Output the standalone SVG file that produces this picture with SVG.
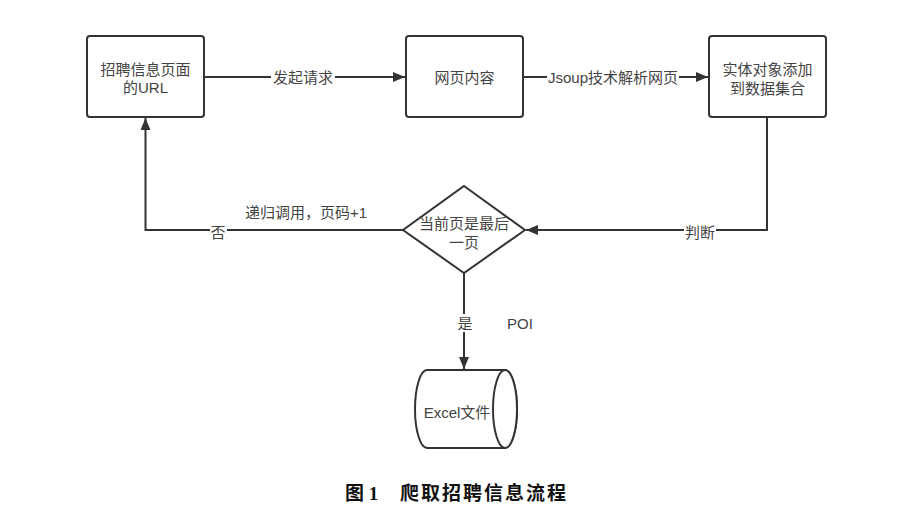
<svg xmlns="http://www.w3.org/2000/svg" width="900" height="516" viewBox="0 0 900 516">
<style>
.node{fill:#fff;stroke:#333;stroke-width:2}
.t{font-family:"Liberation Sans","Noto Sans CJK SC",sans-serif;font-size:15px;fill:#444;text-anchor:middle;dominant-baseline:central}
.edge{fill:none;stroke:#333;stroke-width:2}
.lbg{fill:#fff}
.cap{font-family:"Liberation Serif","Noto Sans CJK SC",serif;font-size:19px;font-weight:bold;fill:#111;dominant-baseline:central}
</style>
<defs>
<marker id="arr" viewBox="0 0 12 10" refX="12" refY="5" markerWidth="12" markerHeight="10" markerUnits="userSpaceOnUse" orient="auto">
<path d="M0,0 L12,5 L0,10 z" fill="#333"/>
</marker>
</defs>
<rect width="900" height="516" fill="#fff"/>
<g id="connectors">
<path class="edge" d="M204,77 H405" marker-end="url(#arr)"/>
<path class="edge" d="M523,77 H708" marker-end="url(#arr)"/>
<path class="edge" d="M767,117 V230 H526" marker-end="url(#arr)"/>
<path class="edge" d="M403,230 H145.5 V118" marker-end="url(#arr)"/>
<path class="edge" d="M464,273 V369" marker-end="url(#arr)"/>
<rect class="lbg" x="271" y="68" width="64" height="18"/>
<text class="t" x="303" y="77">发起请求</text>
<rect class="lbg" x="547" y="68" width="132" height="18"/>
<text class="t" x="613" y="77">Jsoup技术解析网页</text>
<rect class="lbg" x="684" y="222" width="32" height="18"/>
<text class="t" x="700" y="232">判断</text>
<rect class="lbg" x="210" y="222" width="17" height="18"/>
<text class="t" x="218" y="232">否</text>
<text class="t" x="306" y="212">递归调用，页码+1</text>
<rect class="lbg" x="456" y="314" width="17" height="18"/>
<text class="t" x="465" y="323">是</text>
<text class="t" x="520" y="323">POI</text>
</g>
<g id="n1">
<rect class="node" x="87" y="36" width="117" height="81" rx="3"/>
<text class="t" x="145.5" y="69">招聘信息页面</text>
<text class="t" x="145.5" y="87">的URL</text>
</g>
<g id="n2">
<rect class="node" x="406" y="36" width="117" height="81" rx="3"/>
<text class="t" x="464.5" y="77">网页内容</text>
</g>
<g id="n3">
<rect class="node" x="709" y="36" width="117" height="81" rx="3"/>
<text class="t" x="767.5" y="69">实体对象添加</text>
<text class="t" x="767.5" y="88">到数据集合</text>
</g>
<g id="n4">
<polygon class="node" points="464,186 525,230 464,273 403,230"/>
<text class="t" x="464" y="223">当前页是最后</text>
<text class="t" x="464" y="242">一页</text>
</g>
<g id="n5">
<path class="node" d="M505,370 H427 A12,39 0 0 0 427,448 H505 A12,39 0 0 0 505,370 Z"/>
<ellipse class="node" cx="505" cy="409" rx="12" ry="39"/>
<text class="t" x="457" y="412">Excel文件</text>
</g>
<text class="cap" x="345" y="493">图 1</text>
<text class="cap" x="400" y="493" letter-spacing="2">爬取招聘信息流程</text>
</svg>
